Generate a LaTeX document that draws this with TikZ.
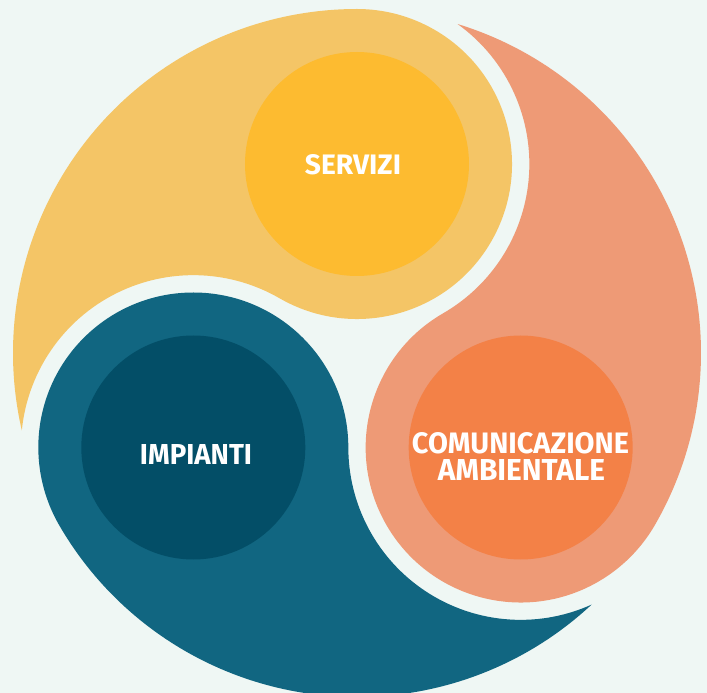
\documentclass[tikz,border=0pt]{standalone}
\usepackage{fontspec}
\setmainfont{Fira Sans}
\usepackage{graphicx}
\definecolor{bgmint}{HTML}{EFF7F4}
\definecolor{yring}{HTML}{F4C566}
\definecolor{ycore}{HTML}{FDBB30}
\definecolor{sring}{HTML}{EE9A76}
\definecolor{score}{HTML}{F38147}
\definecolor{tring}{HTML}{116681}
\definecolor{tcore}{HTML}{034E67}
\tikzset{
  swirl/.pic={
    \path[fill=#1] ($(90:189)+(240:155)$) arc[start angle=240, end angle=450, radius=155]
      arc[start angle=90, end angle=193, radius=344]
      arc[start angle=174.3, end angle=60, radius=172.35] -- cycle;
  },
  core/.style={circle, minimum size=224pt, inner sep=0pt, draw=none},
  label/.style={text=white, inner sep=0pt, font=\bfseries}
}
\usetikzlibrary{calc}
\begin{document}
\begin{tikzpicture}[x=1pt,y=1pt]
\fill[bgmint] (-357,-340) rectangle (350,353);
\useasboundingbox (-357,-340) rectangle (350,353);
% swirl shapes
\path[fill=yring] ($(90:189)+(240:155)$) arc[start angle=240, end angle=450, radius=155]
  arc[start angle=90, end angle=193, radius=344]
  arc[start angle=174.3, end angle=60, radius=172.35] -- cycle;
\begin{scope}[rotate=-120]
\path[fill=sring] ($(90:189)+(240:155)$) arc[start angle=240, end angle=450, radius=155]
  arc[start angle=90, end angle=193, radius=344]
  arc[start angle=174.3, end angle=60, radius=172.35] -- cycle;
\end{scope}
\begin{scope}[rotate=120]
\path[fill=tring] ($(90:189)+(240:155)$) arc[start angle=240, end angle=450, radius=155]
  arc[start angle=90, end angle=193, radius=344]
  arc[start angle=174.3, end angle=60, radius=172.35] -- cycle;
\end{scope}
% cores
\node[core, fill=ycore] (servizi) at (90:189) {};
\node[core, fill=tcore] (impianti) at (210:189) {};
\node[core, fill=score] (comunicazione) at (330:189) {};
% labels
\node[label] (tservizi) at (-4,188) {\resizebox{96pt}{20pt}{SERVIZI}};
\node[label] (timpianti) at (-161,-102) {\resizebox{112pt}{20pt}{IMPIANTI}};
\node[label] (tcom1) at (163.5,-90.5) {\resizebox{217pt}{21pt}{COMUNICAZIONE}};
\node[label] (tcom2) at (164.5,-117.5) {\resizebox{167pt}{21pt}{AMBIENTALE}};
\end{tikzpicture}
\end{document}
